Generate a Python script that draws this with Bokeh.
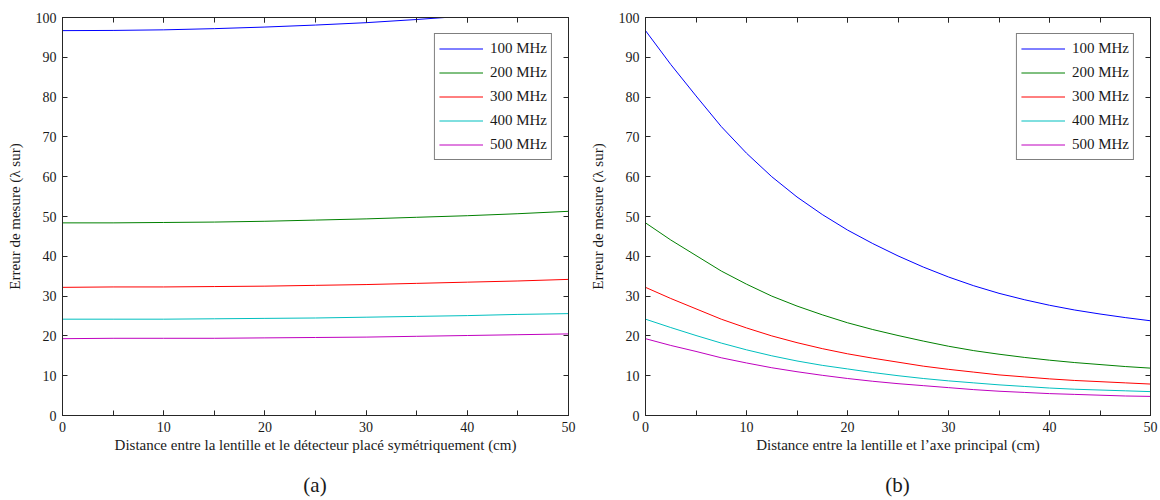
from bokeh.plotting import figure
from bokeh.layouts import row, column
from bokeh.models import Range1d, LinearAxis, SingleIntervalTicker, Div
from bokeh.embed import file_html
from bokeh.resources import INLINE

labels = ["100 MHz", "200 MHz", "300 MHz", "400 MHz", "500 MHz"]
colors = ["#0000ff", "#008000", "#ff0000", "#00bfbf", "#bf00bf"]

# (a) detector placed symmetrically
x_a = [0, 5, 10, 15, 20, 25, 30, 35, 40, 45, 50]
a_100 = [96.7, 96.75, 96.9, 97.2, 97.6, 98.1, 98.7, 99.5, 100.4, 101.4, 102.5]
a_200 = [48.4, 48.4, 48.5, 48.6, 48.8, 49.1, 49.4, 49.8, 50.2, 50.7, 51.3]
a_300 = [32.2, 32.3, 32.3, 32.4, 32.5, 32.7, 32.9, 33.2, 33.5, 33.8, 34.2]
a_400 = [24.2, 24.2, 24.2, 24.3, 24.4, 24.5, 24.7, 24.9, 25.1, 25.4, 25.6]
a_500 = [19.3, 19.4, 19.4, 19.4, 19.5, 19.6, 19.7, 19.9, 20.1, 20.3, 20.5]

# (b) distance to principal axis
x_b = [0, 2.5, 5, 7.5, 10, 12.5, 15, 17.5, 20, 22.5, 25,
       27.5, 30, 32.5, 35, 37.5, 40, 42.5, 45, 47.5, 50]
b_100 = [96.7, 88.2, 80.3, 72.6, 65.9, 60.0, 54.9, 50.5, 46.6, 43.2, 40.1,
         37.3, 34.8, 32.6, 30.7, 29.1, 27.7, 26.5, 25.5, 24.6, 23.8]
b_200 = [48.4, 44.1, 40.2, 36.3, 33.0, 30.0, 27.5, 25.3, 23.3, 21.6, 20.1,
         18.7, 17.4, 16.3, 15.4, 14.6, 13.9, 13.3, 12.8, 12.3, 11.9]
b_300 = [32.2, 29.4, 26.8, 24.2, 22.0, 20.0, 18.3, 16.8, 15.5, 14.4, 13.4,
         12.4, 11.6, 10.9, 10.2, 9.7, 9.2, 8.8, 8.5, 8.2, 7.9]
b_400 = [24.2, 22.1, 20.1, 18.2, 16.5, 15.0, 13.7, 12.6, 11.7, 10.8, 10.0,
         9.3, 8.7, 8.2, 7.7, 7.3, 6.9, 6.6, 6.4, 6.2, 6.0]
b_500 = [19.3, 17.6, 16.1, 14.5, 13.2, 12.0, 11.0, 10.1, 9.3, 8.6, 8.0,
         7.5, 7.0, 6.5, 6.1, 5.8, 5.5, 5.3, 5.1, 4.9, 4.8]

y_label = "Erreur de mesure (λ sur)"
xlabel_a = "Distance entre la lentille et le détecteur placé symétriquement (cm)"
xlabel_b = "Distance entre la lentille et l’axe principal (cm)"
captions = ["(a)", "(b)"]

FONT = "Liberation Serif"
AX = "#262626"
TXT = "#1a1a1a"


def style_axis(ax, show_labels):
    ax.axis_line_color = AX
    ax.major_tick_line_color = AX
    ax.minor_tick_line_color = AX
    ax.major_tick_in = 5
    ax.major_tick_out = 0
    ax.minor_tick_in = 5
    ax.minor_tick_out = 0
    ax.major_label_text_font = FONT
    ax.axis_label_text_font = FONT
    ax.axis_label_text_font_style = "normal"
    ax.axis_label_text_color = TXT
    ax.axis_label_text_font_size = "15px"
    if show_labels:
        ax.major_label_text_font_size = "14px"
        ax.major_label_text_color = TXT
        ax.major_label_standoff = 6
    else:
        ax.major_label_text_font_size = "1px"
        ax.major_label_text_color = None
        ax.major_label_standoff = 0


def make_fig(xs, series, xlabel, fw, bl, br):
    p = figure(frame_width=fw, frame_height=398, output_backend="svg", toolbar_location=None,
               x_range=Range1d(0, 50), y_range=Range1d(0, 100),
               min_border_left=bl, min_border_right=br, min_border_top=17,
               min_border_bottom=45, x_axis_location=None, y_axis_location=None)
    p.xgrid.visible = False
    p.ygrid.visible = False
    p.outline_line_color = AX
    p.background_fill_color = "white"
    p.border_fill_color = "white"

    xb = LinearAxis(ticker=SingleIntervalTicker(interval=10, num_minor_ticks=2), axis_label=xlabel)
    xt = LinearAxis(ticker=SingleIntervalTicker(interval=10, num_minor_ticks=2))
    yl = LinearAxis(ticker=SingleIntervalTicker(interval=10, num_minor_ticks=0), axis_label=y_label)
    yr = LinearAxis(ticker=SingleIntervalTicker(interval=10, num_minor_ticks=0))
    style_axis(xb, True)
    style_axis(yl, True)
    style_axis(xt, False)
    style_axis(yr, False)
    xb.axis_label_standoff = 2
    yl.axis_label_standoff = 10
    p.add_layout(xb, "below")
    p.add_layout(xt, "above")
    p.add_layout(yl, "left")
    p.add_layout(yr, "right")

    for ys, lab, col in zip(series, labels, colors):
        p.line(xs, ys, line_color=col, line_width=1, legend_label=lab)

    lg = p.legend[0]
    lg.location = "top_right"
    lg.margin = 16
    lg.padding = 4
    lg.spacing = 3
    lg.label_height = 21
    lg.glyph_height = 21
    lg.glyph_width = 44
    lg.label_standoff = 7
    lg.label_text_font = FONT
    lg.label_text_font_size = "15px"
    lg.label_text_color = TXT
    lg.border_line_color = "black"
    lg.border_line_width = 1
    lg.background_fill_color = "white"
    lg.background_fill_alpha = 1
    return p


def caption_div(text, width, frame_left, frame_width):
    html = ("<div style='position:absolute;left:%dpx;width:%dpx;top:15px;text-align:center;"
            "font-family:\"Liberation Serif\";font-size:21px;line-height:21px;color:%s'>%s</div>"
            % (frame_left, frame_width, TXT, text))
    return Div(text=html, width=width, height=40, margin=0, styles={"position": "relative"})


p1 = make_fig(x_a, [a_100, a_200, a_300, a_400, a_500], xlabel_a, 506, 62, 10)
p2 = make_fig(x_b, [b_100, b_200, b_300, b_400, b_500], xlabel_b, 505, 67, 10)

c1 = column(p1, caption_div(captions[0], 578, 62, 506), spacing=0)
c2 = column(p2, caption_div(captions[1], 582, 67, 505), spacing=0)
layout = row(c1, c2, spacing=0)
open("out.html", "w").write(file_html(layout, INLINE))
